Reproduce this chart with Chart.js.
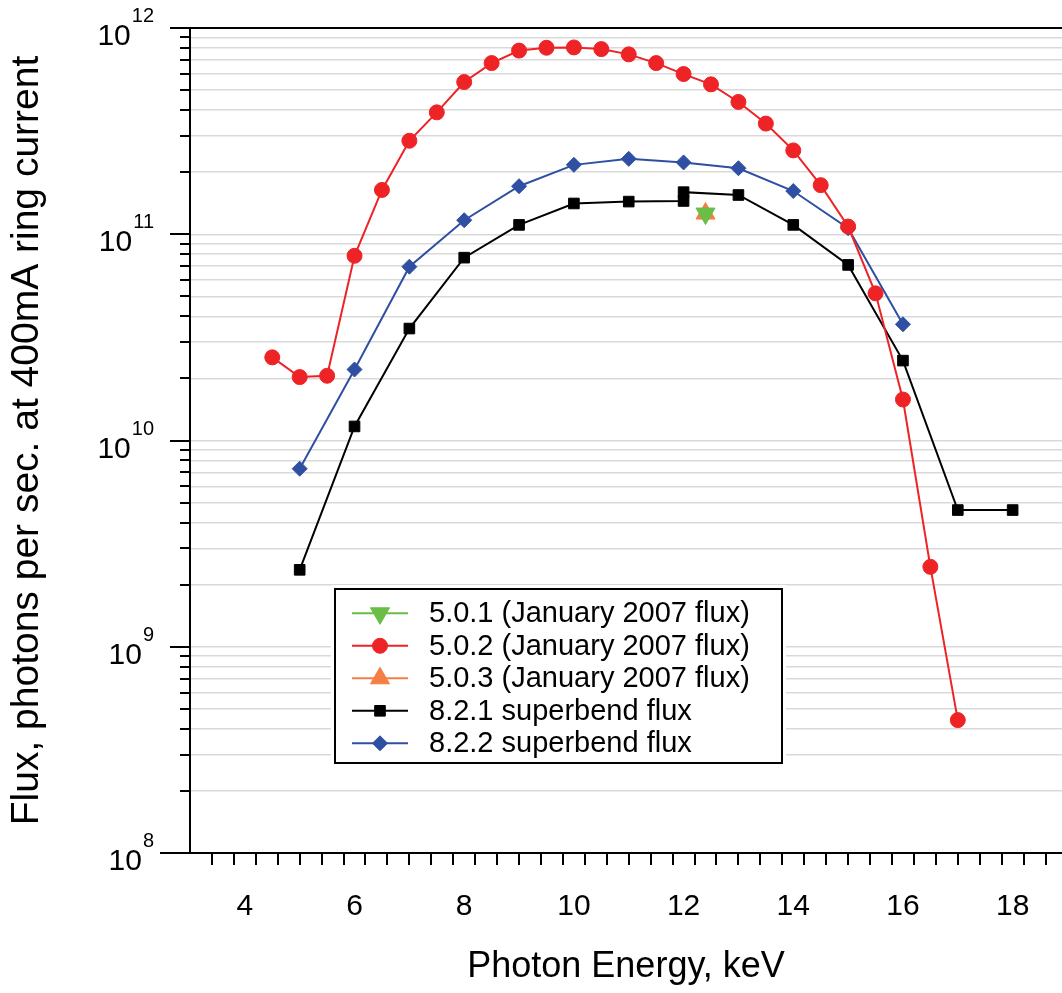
<!DOCTYPE html>
<html lang="en">
<head>
<meta charset="UTF-8">
<title>Beamline flux vs photon energy</title>
<script src="https://cdn.jsdelivr.net/npm/chart.js"></script>
<style>
  html, body { margin: 0; padding: 0; background: #fff; overflow: hidden; }
  #wrap { width: 1062px; height: 993px; position: relative; }
  #wrap canvas { display: block; }
</style>
</head>
<body>
<div id="wrap"><canvas id="myChart"></canvas></div>
<script>
// photon energy (keV) and flux (photons/s at 400 mA)
const bl501X = [12.4];
const bl501Y = [1.26e11];

const bl502X = [4.5, 5, 5.5, 6, 6.5, 7, 7.5, 8, 8.5, 9, 9.5, 10, 10.5, 11, 11.5, 12, 12.5, 13, 13.5, 14, 14.5, 15, 15.5, 16, 16.5, 17];
const bl502Y = [2.53e10, 2.03e10, 2.06e10, 7.86e10, 1.64e11, 2.84e11, 3.90e11, 5.47e11, 6.76e11, 7.77e11, 8.02e11, 8.05e11, 7.90e11, 7.45e11, 6.76e11, 5.98e11, 5.33e11, 4.38e11, 3.44e11, 2.55e11, 1.73e11, 1.09e11, 5.17e10, 1.58e10, 2.44e9, 4.41e8];

const bl503X = [12.4];
const bl503Y = [1.26e11];

const bl821X = [5, 6, 7, 8, 9, 10, 11, 12, 12, 13, 14, 15, 16, 17, 18];
const bl821Y = [2.36e9, 1.17e10, 3.49e10, 7.7e10, 1.11e11, 1.41e11, 1.44e11, 1.45e11, 1.60e11, 1.55e11, 1.11e11, 7.1e10, 2.44e10, 4.6e9, 4.6e9];

const bl822X = [5, 6, 7, 8, 9, 10, 11, 12, 13, 14, 15, 16];
const bl822Y = [7.3e9, 2.21e10, 6.96e10, 1.17e11, 1.71e11, 2.17e11, 2.32e11, 2.23e11, 2.09e11, 1.62e11, 1.07e11, 3.66e10];

const seriesLabels = ['5.0.1 (January 2007 flux)', '5.0.2 (January 2007 flux)', '5.0.3 (January 2007 flux)', '8.2.1 superbend flux', '8.2.2 superbend flux'];

// axes
const xMajorTicks = [4, 6, 8, 10, 12, 14, 16, 18];
const xMinorStep = 0.4;
const yDecades = [8, 9, 10, 11, 12];
const yMinorSteps = [1, 2, 3, 4, 5, 6, 7, 8, 9];

const FONT = '"Liberation Sans", Arial, Helvetica, sans-serif';

function pts(xs, ys) {
    return xs.map((x, i) => ({ x: x, y: ys[i] }));
}

function isDecade(v) {
    const l = Math.log10(v);
    return Math.abs(l - Math.round(l)) < 1e-9;
}

function drawText(ctx, text, x, y, size, align) {
    ctx.font = size + 'px ' + FONT;
    ctx.textAlign = align;
    ctx.textBaseline = 'alphabetic';
    ctx.fillText(text, x, y);
    return ctx.measureText(text).width;
}

function markerAt(ctx, ds, px, py) {
    const opts = {
        pointStyle: ds.pointStyle,
        rotation: ds.pointRotation || 0,
        radius: ds.pointRadius,
        borderWidth: ds.pointBorderWidth
    };
    ctx.fillStyle = ds.backgroundColor;
    ctx.strokeStyle = ds.borderColor;
    ctx.lineWidth = ds.pointBorderWidth;
    Chart.helpers.drawPoint(ctx, opts, px, py);
}

// axis lines, tick marks, tick labels and the boxed legend
const framePlugin = {
    id: 'frame',
    afterDatasetsDraw(chart) {
        const ctx = chart.ctx;
        const a = chart.chartArea;
        const xs = chart.scales.x;
        const ys = chart.scales.y;
        ctx.save();
        ctx.strokeStyle = '#000';
        ctx.lineWidth = 2;
        ctx.beginPath();
        ctx.moveTo(a.left - 20, a.top); ctx.lineTo(chart.width, a.top);
        ctx.moveTo(a.left, a.top); ctx.lineTo(a.left, a.bottom);
        ctx.moveTo(a.left - 30, a.bottom); ctx.lineTo(chart.width, a.bottom);

        ys.ticks.forEach(t => {
            const py = Math.round(ys.getPixelForValue(t.value));
            ctx.moveTo(a.left - (isDecade(t.value) ? 20 : 10), py);
            ctx.lineTo(a.left, py);
        });

        for (let i = 1; xs.min + i * xMinorStep < xs.max; i++) {
            const v = xs.min + i * xMinorStep;
            const px = Math.round(xs.getPixelForValue(v));
            const major = Math.abs(v - Math.round(v)) < 1e-6 && Math.round(v) % 2 === 0;
            ctx.moveTo(px, a.bottom);
            ctx.lineTo(px, a.bottom + (major ? 22 : 12));
        }
        ctx.stroke();

        ctx.fillStyle = '#000';
        xMajorTicks.forEach(v => {
            drawText(ctx, String(v), xs.getPixelForValue(v), a.bottom + 62, 30, 'center');
        });
        yDecades.forEach(e => {
            const py = ys.getPixelForValue(Math.pow(10, e));
            const supW = drawText(ctx, String(e), 154, py - 6, 20, 'right');
            drawText(ctx, '10', 154 - supW - 1, py + 17, 30, 'right');
        });
        ctx.restore();
    },
    afterDraw(chart) {
        const ctx = chart.ctx;
        const box = { left: 335, top: 589, right: 782, bottom: 763 };
        ctx.save();
        ctx.fillStyle = '#fff';
        ctx.fillRect(box.left - 4, box.top - 4, box.right - box.left + 8, box.bottom - box.top + 8);
        ctx.strokeStyle = '#000';
        ctx.lineWidth = 2;
        ctx.strokeRect(box.left, box.top, box.right - box.left, box.bottom - box.top);

        chart.data.datasets.forEach((ds, i) => {
            const cy = box.top + 24.3 + i * 32.5;
            ctx.strokeStyle = ds.borderColor;
            ctx.lineWidth = ds.borderWidth;
            ctx.beginPath();
            ctx.moveTo(352, cy);
            ctx.lineTo(408, cy);
            ctx.stroke();
            markerAt(ctx, ds, 380, cy);
            ctx.fillStyle = '#000';
            ctx.font = '29px ' + FONT;
            ctx.textAlign = 'left';
            ctx.textBaseline = 'middle';
            ctx.fillText(ds.label, 429, cy + 1);
        });
        ctx.restore();
    }
};

const ctx = document.getElementById('myChart').getContext('2d');

new Chart(ctx, {
    type: 'line',
    data: {
        datasets: [
            {
                label: seriesLabels[0],
                data: pts(bl501X, bl501Y),
                borderColor: '#6abd45',
                backgroundColor: '#6abd45',
                borderWidth: 2,
                pointStyle: 'triangle',
                pointRotation: 180,
                pointRadius: 11,
                pointBorderWidth: 1
            },
            {
                label: seriesLabels[1],
                data: pts(bl502X, bl502Y),
                borderColor: '#ee2326',
                backgroundColor: '#ee2326',
                borderWidth: 2,
                pointStyle: 'circle',
                pointRadius: 7.5,
                pointBorderWidth: 1
            },
            {
                label: seriesLabels[2],
                data: pts(bl503X, bl503Y),
                borderColor: '#f47f45',
                backgroundColor: '#f47f45',
                borderWidth: 2,
                pointStyle: 'triangle',
                pointRotation: 0,
                pointRadius: 11,
                pointBorderWidth: 1
            },
            {
                label: seriesLabels[3],
                data: pts(bl821X, bl821Y),
                borderColor: '#000000',
                backgroundColor: '#000000',
                borderWidth: 2,
                pointStyle: 'rect',
                pointRadius: 7.5,
                pointBorderWidth: 1
            },
            {
                label: seriesLabels[4],
                data: pts(bl822X, bl822Y),
                borderColor: '#2f4fa2',
                backgroundColor: '#2f4fa2',
                borderWidth: 2,
                pointStyle: 'rectRot',
                pointRadius: 7.5,
                pointBorderWidth: 1
            }
        ]
    },
    options: {
        responsive: true,
        maintainAspectRatio: false,
        animation: false,
        layout: { autoPadding: false, padding: { top: 28, right: 0, left: 0, bottom: 0 } },
        plugins: {
            legend: { display: false },
            tooltip: { enabled: false }
        },
        scales: {
            x: {
                type: 'linear',
                min: 3,
                max: 18.9,
                grid: { display: false, drawTicks: false },
                border: { display: false },
                ticks: { display: false },
                afterBuildTicks: s => { s.ticks = xMajorTicks.map(v => ({ value: v })); },
                afterFit: s => { s.height = 140; },
                title: {
                    display: true,
                    text: 'Photon Energy, keV',
                    color: '#000',
                    font: { family: FONT, size: 36 },
                    padding: { top: 4, bottom: 4 }
                }
            },
            y: {
                type: 'logarithmic',
                min: 1e8,
                max: 1e12,
                grid: { color: '#d9d9d9', lineWidth: 1.5, drawTicks: false },
                border: { display: false },
                ticks: { display: false },
                afterBuildTicks: s => {
                    const t = [];
                    yDecades.forEach(e => {
                        if (e === yDecades[yDecades.length - 1]) {
                            t.push({ value: Math.pow(10, e), major: true });
                            return;
                        }
                        yMinorSteps.forEach(k => t.push({ value: k * Math.pow(10, e), major: k === 1 }));
                    });
                    s.ticks = t;
                },
                afterFit: s => { s.width = 190; },
                title: {
                    display: true,
                    text: 'Flux, photons per sec. at 400mA ring current',
                    color: '#000',
                    font: { family: FONT, size: 39 },
                    padding: { top: 4, bottom: 4 }
                }
            }
        }
    },
    plugins: [framePlugin]
});
</script>
</body>
</html>
